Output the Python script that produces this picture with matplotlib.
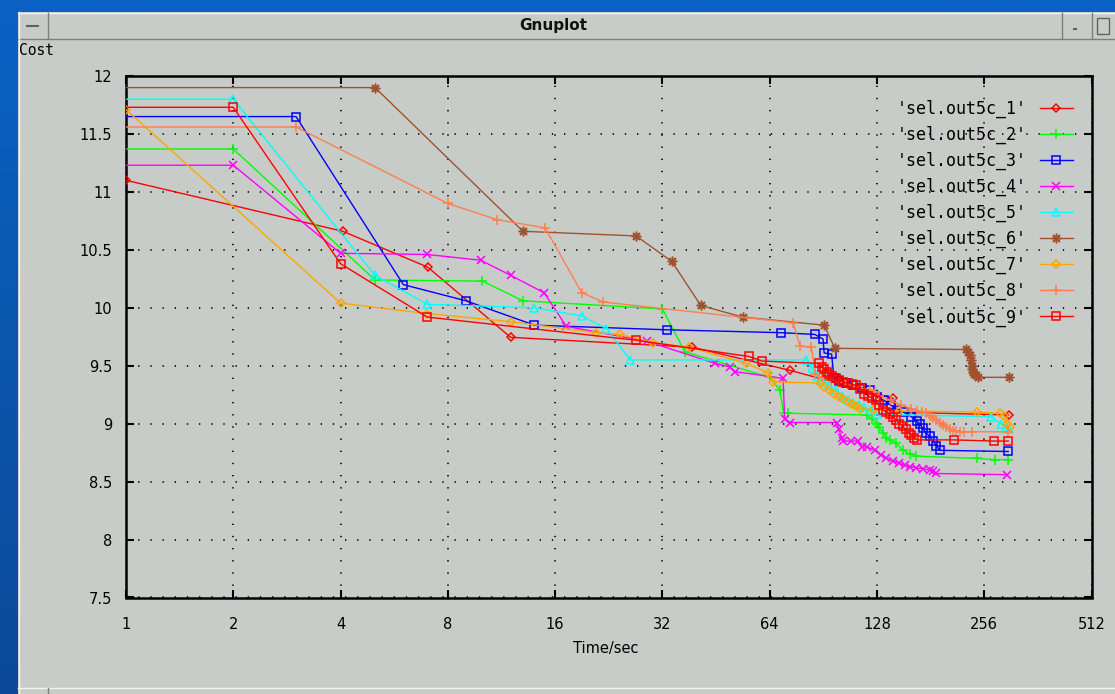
import numpy as np
import matplotlib
matplotlib.use('Agg')
import matplotlib.pyplot as plt
from matplotlib.patches import Rectangle
from matplotlib.ticker import FixedLocator, FixedFormatter, NullLocator
from matplotlib.font_manager import FontProperties
from matplotlib.colors import LinearSegmentedColormap

# ---------------- data ----------------
series_names = ["'sel.out5c_1'", "'sel.out5c_2'", "'sel.out5c_3'", "'sel.out5c_4'",
                "'sel.out5c_5'", "'sel.out5c_6'", "'sel.out5c_7'", "'sel.out5c_8'",
                "'sel.out5c_9'"]

s1_x = [1, 4.06, 7.03, 12, 38.8, 73, 142, 145, 300]
s1_y = [11.1, 10.66, 10.35, 9.745, 9.66, 9.46, 9.22, 9.10, 9.075]

s2_x = [0.5, 2, 5, 10, 13, 32, 37, 64, 68.4, 70, 72, 119.7, 124, 127.7, 130, 133, 136, 139,
        145, 151.6, 158, 165, 243.6, 275, 299]
s2_y = [11.37, 11.37, 10.24, 10.23, 10.06, 9.99, 9.62, 9.40, 9.29, 9.09, 9.09, 9.075, 9.04,
        9.0, 8.97, 8.92, 8.88, 8.86, 8.83, 8.77, 8.74, 8.72, 8.70, 8.69, 8.69]

s3_x = [0.5, 3, 6, 9, 14, 33, 69, 85.7, 90.4, 91, 95.5, 97, 100, 105, 110, 116, 122, 128, 134,
        140, 146, 152, 160, 166, 169, 172, 176, 180, 184, 188, 192, 299]
s3_y = [11.65, 11.65, 10.2, 10.06, 9.85, 9.81, 9.785, 9.77, 9.73, 9.61, 9.60, 9.39, 9.37, 9.35,
        9.33, 9.31, 9.29, 9.23, 9.2, 9.16, 9.12, 9.1, 9.06, 9.02, 9.0, 8.96, 8.92, 8.89, 8.85,
        8.81, 8.77, 8.76]

s4_x = [0.5, 2, 4, 7, 9.9, 12, 14.9, 17.2, 29, 45, 49.5, 51, 69.8, 70.5, 72.9, 98.6, 100, 102,
        103, 108, 113.4, 116, 120, 126, 131, 136, 142, 148, 153, 158, 165, 172.5, 180, 184, 188,
        296]
s4_y = [11.23, 11.23, 10.47, 10.46, 10.41, 10.28, 10.13, 9.84, 9.71, 9.52, 9.49, 9.45, 9.39,
        9.04, 9.01, 9.01, 8.95, 8.88, 8.85, 8.85, 8.85, 8.80, 8.80, 8.77, 8.73, 8.70, 8.68, 8.66,
        8.64, 8.63, 8.62, 8.61, 8.60, 8.59, 8.57, 8.56]

s5_x = [0.5, 2, 5, 7, 14, 19, 22.3, 26, 81, 84, 87, 90, 94, 98, 102, 106, 110, 114, 118, 123,
        128, 268, 285, 295, 300]
s5_y = [11.8, 11.8, 10.28, 10.03, 10.0, 9.93, 9.82, 9.55, 9.55, 9.48, 9.41, 9.38, 9.33, 9.29,
        9.24, 9.2, 9.18, 9.16, 9.14, 9.12, 9.08, 9.06, 9.0, 8.96, 8.95]

s6_x = [0.5, 5, 13, 27, 34, 41, 53.7, 91, 97.5, 228, 231, 233, 235, 236, 237, 238, 240, 243,
        246, 300]
s6_y = [11.9, 11.9, 10.66, 10.62, 10.40, 10.02, 9.92, 9.85, 9.65, 9.64, 9.62, 9.59, 9.55, 9.50,
        9.47, 9.45, 9.43, 9.42, 9.40, 9.40]

s7_x = [1, 4, 7, 12, 20.9, 24.3, 30.2, 38, 55, 63.3, 65.6, 88.5, 91, 94, 97, 100, 103, 106, 109,
        112, 115, 125, 148, 243.6, 283, 291, 296, 302]
s7_y = [11.71, 10.04, 9.95, 9.88, 9.785, 9.77, 9.70, 9.66, 9.52, 9.44, 9.36, 9.35, 9.32, 9.29,
        9.26, 9.23, 9.21, 9.19, 9.17, 9.15, 9.13, 9.12, 9.11, 9.10, 9.09, 9.07, 9.0, 8.97]

s8_x = [0.5, 3, 8, 11, 15, 19, 21.8, 74.5, 77.8, 83.8, 86, 90, 95, 100, 106, 112, 118, 122, 126,
        130, 140, 150, 160, 166, 170.8, 176, 180, 184, 188, 192, 196, 200, 205, 209, 214, 218.7,
        225, 237, 299]
s8_y = [11.56, 11.56, 10.9, 10.76, 10.69, 10.13, 10.05, 9.87, 9.67, 9.66, 9.43, 9.40, 9.38, 9.36,
        9.34, 9.32, 9.30, 9.29, 9.27, 9.24, 9.2, 9.16, 9.13, 9.11, 9.10, 9.09, 9.07, 9.05, 9.03,
        9.01, 8.99, 8.97, 8.95, 8.94, 8.94, 8.93, 8.93, 8.93, 8.93]

s9_x = [0.5, 2, 4, 7, 27, 56, 61, 88, 89.5, 91, 92.5, 94, 96, 98, 100, 103, 106, 109, 112, 115,
        118, 121, 124, 127, 130, 133, 136, 139, 142, 145, 148, 151, 154, 157, 160, 163, 166, 210,
        272, 299]
s9_y = [11.73, 11.73, 10.38, 9.92, 9.72, 9.58, 9.54, 9.52, 9.49, 9.47, 9.45, 9.43, 9.41, 9.39,
        9.38, 9.36, 9.35, 9.34, 9.33, 9.30, 9.26, 9.24, 9.22, 9.20, 9.16, 9.12, 9.10, 9.08, 9.06,
        9.03, 9.00, 8.98, 8.95, 8.92, 8.90, 8.88, 8.86, 8.86, 8.85, 8.85]

x_ticks = [1, 2, 4, 8, 16, 32, 64, 128, 256, 512]
x_tick_labels = ['1', '2', '4', '8', '16', '32', '64', '128', '256', '512']
y_ticks = [7.5, 8, 8.5, 9, 9.5, 10, 10.5, 11, 11.5, 12]
y_tick_labels = ['7.5', '8', '8.5', '9', '9.5', '10', '10.5', '11', '11.5', '12']

xs = [s1_x, s2_x, s3_x, s4_x, s5_x, s6_x, s7_x, s8_x, s9_x]
ys = [s1_y, s2_y, s3_y, s4_y, s5_y, s6_y, s7_y, s8_y, s9_y]

# ---------------- styles ----------------
colors = ['#ff0000', '#00ff00', '#0000ff', '#ff00ff', '#00ffff',
          '#a0522d', '#ffa500', '#ff7f50', '#ff0000']
markers = ['D', '+', 's', 'x', '^', (8, 2, 0), 'D', '+', 's']
msizes = [4.0, 7, 5.5, 6, 5.5, 7, 4.5, 7, 5.5]
open_marker = [True, False, True, False, True, False, True, False, True]

W, H = 1115, 694
fig = plt.figure(figsize=(W / 100, H / 100), dpi=100)

# background / window decoration (pixel coordinates)
bg = fig.add_axes([0, 0, 1, 1])
bg.set_xlim(0, W)
bg.set_ylim(H, 0)
bg.axis('off')
grad = np.linspace(0, 1, 256).reshape(-1, 1)
cmap = LinearSegmentedColormap.from_list('b', ['#0a62c4', '#0a4a98'])
bg.imshow(grad, cmap=cmap, extent=[0, W, H, 0], aspect='auto', zorder=0)
win_col = '#c8ccc8'
bg.add_patch(Rectangle((18, 12), W - 18, H - 12, facecolor=win_col, edgecolor='none', zorder=1))
bg.plot([18, W], [13, 13], color='#f0f4f0', lw=1, zorder=2)
bg.plot([18, W], [38.5, 38.5], color='#7c807c', lw=1, zorder=2)
bg.plot([18.5, 18.5], [12, H], color='#f0f4f0', lw=1, zorder=2)
for xv in [47.5, 1061.5, 1091.5]:
    bg.plot([xv, xv], [13, 38], color='#7c807c', lw=1, zorder=2)
bg.plot([27, 38], [26, 26], color='#606460', lw=1.5, zorder=2)
bg.plot([1074, 1076], [29, 29], color='#606460', lw=1.5, zorder=2)
bg.add_patch(Rectangle((1097, 18), 12, 16, facecolor='none', edgecolor='#606460', lw=1, zorder=2))
bg.text(553, 25.5, 'Gnuplot', ha='center', va='center', fontsize=11, fontweight='bold',
        family='DejaVu Sans', color='#101010', zorder=3)
bg.plot([18, W], [688, 688], color='#f0f4f0', lw=1, zorder=2)
bg.plot([47.5, 47.5], [688, H], color='#7c807c', lw=1, zorder=2)
bg.text(19, 50, 'Cost', ha='left', va='center', fontsize=10.5, family='DejaVu Sans Mono',
        color='black', zorder=3)
bg.text(606, 648, 'Time/sec', ha='center', va='center', fontsize=10.5, family='DejaVu Sans',
        color='black', zorder=3)

# main plot
ax = fig.add_axes([126 / W, (H - 597.5) / H, 965.5 / W, 521.5 / H])
ax.set_facecolor('none')
ax.set_xscale('log', base=2)
ax.set_xlim(1, 512)
ax.set_ylim(7.5, 12)

for i in range(9):
    ax.plot(xs[i], ys[i], color=colors[i], lw=1.0, marker=markers[i], ms=msizes[i],
            mfc='none' if open_marker[i] else colors[i], mec=colors[i], mew=1.1,
            label=series_names[i], zorder=3)

ax.xaxis.set_major_locator(FixedLocator(x_ticks))
ax.xaxis.set_major_formatter(FixedFormatter(x_tick_labels))
ax.xaxis.set_minor_locator(NullLocator())
ax.yaxis.set_major_locator(FixedLocator(y_ticks))
ax.yaxis.set_major_formatter(FixedFormatter(y_tick_labels))
ax.yaxis.set_minor_locator(NullLocator())

ax.grid(True, color='black', linestyle=(0, (0.8, 6.5)), linewidth=1.2, zorder=1)
ax.set_axisbelow(True)
ax.tick_params(direction='in', length=6, width=1.5, top=True, right=True,
               labelsize=10.5, colors='black')
ax.tick_params(axis='x', pad=14)
ax.tick_params(axis='y', pad=10)
for sp in ax.spines.values():
    sp.set_linewidth(1.8)

leg = ax.legend(loc='upper right', bbox_to_anchor=(0.981, 0.955), frameon=False,
                markerfirst=False, prop=FontProperties(family='DejaVu Sans Mono', size=12),
                handlelength=2.0, handletextpad=0.8, labelspacing=0.47,
                borderaxespad=0, borderpad=0)

fig.savefig('out.png', dpi=100, facecolor=fig.get_facecolor())
